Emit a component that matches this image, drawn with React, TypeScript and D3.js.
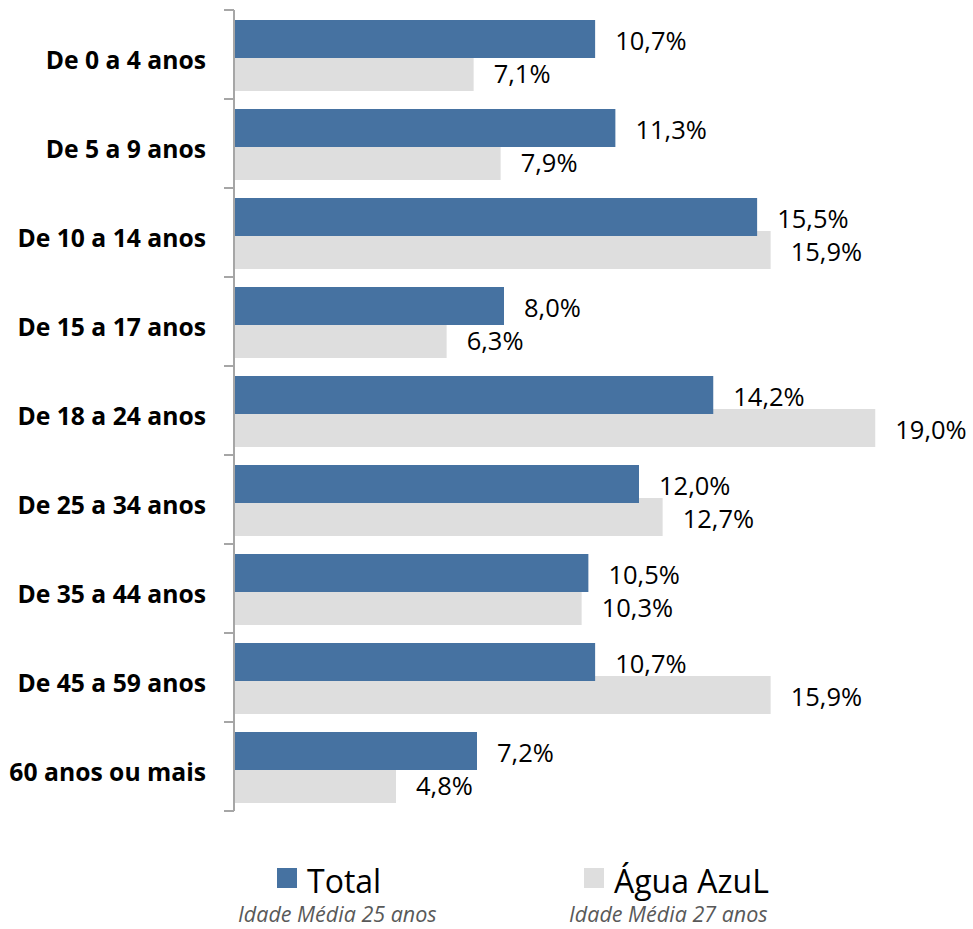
import React from "react";
import * as d3 from "d3";

const categories = [
  "De 0 a 4 anos",
  "De 5 a 9 anos",
  "De 10 a 14 anos",
  "De 15 a 17 anos",
  "De 18 a 24 anos",
  "De 25 a 34 anos",
  "De 35 a 44 anos",
  "De 45 a 59 anos",
  "60 anos ou mais",
];
const totalValues = [10.7, 11.3, 15.5, 8.0, 14.2, 12.0, 10.5, 10.7, 7.2];
const aguaAzulValues = [7.1, 7.9, 15.9, 6.3, 19.0, 12.7, 10.3, 15.9, 4.8];
const seriesNames = ["Total", "Água AzuL"];
const seriesNotes = ["Idade Média 25 anos", "Idade Média 27 anos"];

const W = 973;
const H = 929;
const BLUE = "#4672A1";
const GRAY = "#DEDEDE";
const FONT = "'Open Sans', 'Noto Sans', sans-serif";

export default function App() {
  const axisX = 234;
  const x = d3.scaleLinear().domain([0, 20]).range([axisX, axisX + 675]);
  const y = d3.scaleBand<string>().domain(categories).range([10, 811]).paddingInner(0).paddingOuter(0);
  const bw = y.bandwidth();
  const barH = 38;
  const blueOff = 10;
  const grayOff = 43;
  const fmt = (v: number) => v.toFixed(1).replace(".", ",") + "%";
  const ticks = [...categories.map((c) => y(c) as number), 811];

  return (
    <svg width={W} height={H} style={{ position: "absolute", left: 0, top: 0, background: "#fff" }} fontFamily={FONT}>
      {categories.map((c, i) => (
        <rect key={"g" + i} x={x(0)} y={(y(c) as number) + grayOff} width={x(aguaAzulValues[i]) - x(0)} height={barH} fill={GRAY} />
      ))}
      {categories.map((c, i) => (
        <rect key={"b" + i} x={x(0)} y={(y(c) as number) + blueOff} width={x(totalValues[i]) - x(0)} height={barH} fill={BLUE} />
      ))}
      <line x1={axisX} x2={axisX} y1={10} y2={811} stroke="#A6A6A6" strokeWidth={2} />
      {ticks.map((t, i) => (
        <line key={"t" + i} x1={axisX - 10} x2={axisX} y1={t} y2={t} stroke="#A6A6A6" strokeWidth={2} />
      ))}
      {categories.map((c, i) => (
        <text key={"c" + i} x={206} y={(y(c) as number) + bw / 2 + 14} textAnchor="end" fontSize={24.7} fontWeight={700} fill="#000">
          {c}
        </text>
      ))}
      {categories.map((c, i) => (
        <text key={"vb" + i} x={x(totalValues[i]) + 20} y={(y(c) as number) + blueOff + barH / 2 + 11} fontSize={25.5} fill="#000">
          {fmt(totalValues[i])}
        </text>
      ))}
      {categories.map((c, i) => (
        <text key={"vg" + i} x={x(aguaAzulValues[i]) + 20} y={(y(c) as number) + grayOff + barH / 2 + 11} fontSize={25.5} fill="#000">
          {fmt(aguaAzulValues[i])}
        </text>
      ))}
      {[
        { x: 277, color: BLUE },
        { x: 584, color: GRAY },
      ].map((l, i) => (
        <g key={"l" + i}>
          <rect x={l.x} y={868} width={20} height={20} fill={l.color} />
          <text x={l.x + 30} y={893} fontSize={32} fill="#000">
            {seriesNames[i]}
          </text>
        </g>
      ))}
      <text x={238} y={922} fontSize={21.5} fontStyle="italic" fill="#595959">
        {seriesNotes[0]}
      </text>
      <text x={569} y={922} fontSize={21.5} fontStyle="italic" fill="#595959">
        {seriesNotes[1]}
      </text>
    </svg>
  );
}
